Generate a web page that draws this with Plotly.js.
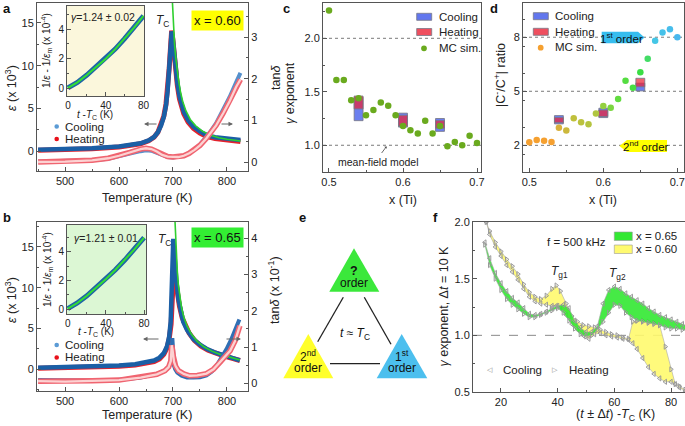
<!DOCTYPE html>
<html><head><meta charset="utf-8">
<script src="https://cdn.plot.ly/plotly-3.0.1.min.js"></script>
<style>html,body{margin:0;padding:0;background:#fff}#chart{width:685px;height:426px}</style>
</head><body><div id="chart"></div>
<script>
// ---------- panel a (x = 0.60) ----------
const aEpsCoolT=[450,500,550,600,625,640,655,665,672,678,683,687,690,693,695.5,697.5,699.5,702,705,708,712,716,720,728,738,750,762,778,793,810,825];
const aEpsCool=[0.16,0.22,0.33,0.52,0.7,0.9,1.25,1.65,2.2,3.0,4.0,5.3,7.0,9.3,11.8,14.0,13.3,11.5,9.6,8.0,6.4,5.3,4.6,3.6,2.85,2.3,1.87,1.62,1.48,1.37,1.28];
const aEpsHeat=[0.1,0.16,0.27,0.46,0.64,0.85,1.2,1.62,2.2,3.05,4.1,5.5,7.3,9.7,12.2,14.1,13.2,11.2,9.3,7.7,6.1,5.0,4.35,3.4,2.65,2.1,1.7,1.45,1.3,1.2,1.12];
const aFitT=[698.5,699.5,701,703,705,707,710,714,718,724,732,742,755,770,785,800,815,825];
const aFitEps=[18,16.3,14.3,12.4,11.0,9.8,8.4,6.9,5.8,4.7,3.7,2.95,2.3,1.85,1.55,1.38,1.25,1.17];
const aTanT=[450,500,550,580,600,620,640,650,660,670,680,690,700,710,720,730,740,750,762,770,780,793,805,817,825];
const aTanHeat=[0.0,0.01,0.04,0.09,0.15,0.23,0.31,0.33,0.31,0.25,0.17,0.13,0.12,0.12,0.15,0.21,0.29,0.4,0.57,0.7,0.88,1.17,1.46,1.8,1.98];
const aTanCool=[0.01,0.02,0.04,0.08,0.13,0.2,0.26,0.28,0.27,0.22,0.15,0.12,0.11,0.12,0.15,0.22,0.3,0.42,0.6,0.74,0.93,1.24,1.56,1.91,2.14];
// inset (t - Tc vs 1/eps - 1/eps_m)
const insT=[0,10,20,30,40,50,60,70,80];
const insA=[0.03,0.4,0.9,1.45,2.0,2.65,3.35,4.1,4.9];
const insB=[0.03,0.42,0.93,1.5,2.1,2.75,3.45,4.2,5.0];
// ---------- panel b (x = 0.65) ----------
const bEpsCoolT=[450,500,550,600,630,650,665,675,683,689,693,695.7,697.5,699,700.6,702,703.7,706,710,715,719,726,737.6,750,762,777,793,810,824];
const bEpsCool=[0.15,0.2,0.28,0.42,0.58,0.78,1.05,1.4,1.95,2.8,4.0,5.8,8.5,12.0,16.0,14.8,13.0,11.0,8.6,6.8,5.8,4.8,3.7,3.0,2.5,2.05,1.7,1.38,1.07];
const bEpsHeatT=[450,500,550,600,630,650,665,675,683,689,693,696.5,699,700.5,701.8,703,705,708,712,717,722,730,740,752,765,780,795,810,824];
const bEpsHeat=[0.1,0.14,0.2,0.33,0.48,0.66,0.9,1.25,1.8,2.6,3.7,5.5,8.2,10.8,12.8,12.2,10.9,9.3,7.7,6.3,5.4,4.4,3.5,2.8,2.3,1.9,1.6,1.32,1.05];
const bFitT=[703.5,705,706.5,708,710,713,716,720,726,734,745,758,772,788,805,824];
const bFitEps=[18.5,15.5,13.5,12.0,10.3,8.6,7.5,6.4,5.3,4.3,3.4,2.7,2.2,1.8,1.45,1.1];
const bTanCoolT=[450,500,550,600,640,670,685,693,697,698.8,699.8,700.6,702,704,708,716,726,738,750,762,772,781,790,799,808,816,823];
const bTanCool=[0.09,0.08,0.08,0.1,0.16,0.26,0.35,0.47,0.66,1.25,1.01,0.7,0.48,0.39,0.3,0.21,0.16,0.16,0.17,0.22,0.33,0.49,0.7,0.94,1.21,1.48,1.76];
const bTanHeatT=[450,500,550,600,640,670,685,692,696,697.6,699,700.5,702,705,710,720,731,745,762,775,787,797,806,815,824];
const bTanHeat=[0.06,0.05,0.07,0.09,0.16,0.25,0.35,0.45,0.62,1.05,0.94,0.76,0.59,0.47,0.35,0.26,0.21,0.22,0.27,0.39,0.58,0.74,0.9,1.17,1.59];
// ---------- panel c ----------
const mcX=[0.50,0.51,0.52,0.53,0.54,0.55,0.56,0.57,0.58,0.59,0.60,0.61,0.62,0.63,0.64,0.65,0.66,0.67,0.68,0.69,0.70];
const cMC=[2.26,1.61,1.61,1.42,1.44,1.28,1.33,1.40,1.37,1.28,1.18,1.14,1.11,1.23,1.11,1.18,0.99,1.03,1.00,1.09,1.02];
const expX=[0.54,0.60,0.65];
const cCoolLo=[1.23,1.17,1.13], cCoolHi=[1.45,1.30,1.25];
const cHeatLo=[1.34,1.18,1.16], cHeatHi=[1.46,1.28,1.23];
// ---------- panel d ----------
const dMC=[2.17,2.3,2.26,2.19,2.98,2.83,3.5,3.28,3.17,3.76,4.19,4.09,4.57,5.59,5.2,6.06,6.8,7.81,8.26,8.44,8.0];
const dCoolLo=[3.19,3.54,5.02], dCoolHi=[3.65,4.06,5.45];
const dHeatLo=[3.26,3.6,5.25], dHeatHi=[3.54,3.96,5.72];
// ---------- panel f ----------
const fGX=[14.3,16,18,20,22,24,26,28,30,32,34,36,38,40,42,44,46,48,50,52,54,56,58,60,62,64,66,68,70,72,74,76,78,80,82,84,86];
const fGUp=[1.82,1.68,1.55,1.46,1.39,1.33,1.29,1.24,1.19,1.18,1.19,1.21,1.24,1.26,1.27,1.24,1.13,1.07,1.03,1.03,1.08,1.28,1.40,1.43,1.41,1.37,1.34,1.31,1.28,1.24,1.21,1.18,1.16,1.14,1.12,1.10,1.08];
const fGLo=[1.80,1.62,1.50,1.40,1.32,1.27,1.23,1.19,1.16,1.16,1.18,1.20,1.22,1.24,1.20,1.13,1.06,1.01,0.99,1.00,1.05,1.12,1.20,1.27,1.26,1.20,1.16,1.13,1.12,1.11,1.10,1.09,1.07,1.06,1.06,1.05,1.04];
const fYX=[14.8,16,18,20,22,24,26,28,30,32,34,36,38,39.5,41,43,45,47,49,51,53,55,57,59,61,63,65,66.5,68,70,72,74,76,78,80,81.5,83,85];
const fYUp=[2.0,1.92,1.82,1.74,1.67,1.61,1.54,1.45,1.38,1.34,1.32,1.35,1.41,1.44,1.39,1.28,1.17,1.12,1.09,1.08,1.07,1.05,1.03,1.01,1.00,0.98,0.97,1.12,1.13,1.13,1.12,1.11,1.09,0.90,0.70,0.57,0.55,0.52];
const fYLo=[2.0,1.89,1.78,1.70,1.62,1.56,1.49,1.41,1.34,1.30,1.28,1.27,1.26,1.26,1.25,1.18,1.10,1.05,1.00,0.97,1.01,1.02,1.00,0.99,0.98,0.97,0.96,0.93,0.88,0.80,0.72,0.66,0.62,0.59,0.59,0.57,0.54,0.51];

// ---------- helpers ----------
const W=685,H=426;
const X=p=>p/W, Y=p=>1-p/H;
const FONT='Liberation Sans, Arial, Helvetica, sans-serif';
const diff=(hi,lo)=>hi.map((v,i)=>v-lo[i]);
function ln(x,y,xa,ya,color,width){return {type:'scatter',mode:'lines',x:x,y:y,xaxis:xa,yaxis:ya,line:{color:color,width:width},hoverinfo:'skip',showlegend:false};}

const traces=[];
// panel a
traces.push(ln(aTanT,aTanCool,'x','y2','#5590cc',4));
traces.push(ln(aTanT,aTanHeat,'x','y2','#f06470',5.5));
traces.push(ln(aTanT,aTanHeat,'x','y2','#fcd2d2',2.3));
traces.push(ln(aEpsCoolT,aEpsHeat,'x','y','#e3222c',5));
traces.push(ln(aEpsCoolT,aEpsCool,'x','y','#1a5fa6',4.5));
traces.push(ln(aFitT,aFitEps,'x','y','#2fcf2f',1.6));
traces.push(ln(insT,insA,'x2','y3','#1e64a8',5));
traces.push(ln(insT,insA,'x2','y3','#33dd33',2));
// panel b
traces.push(ln(bTanCoolT,bTanCool,'x3','y5','#2f6fb4',4));
traces.push(ln(bTanHeatT,bTanHeat,'x3','y5','#f06470',5.5));
traces.push(ln(bTanHeatT,bTanHeat,'x3','y5','#fcd2d2',2.3));
traces.push(ln(bEpsHeatT,bEpsHeat,'x3','y4','#e3222c',5));
traces.push(ln(bEpsCoolT,bEpsCool,'x3','y4','#1a5fa6',4.5));
traces.push(ln(bFitT,bFitEps,'x3','y4','#2fcf2f',1.6));
traces.push(ln(insT,insB,'x4','y6','#1e64a8',5));
traces.push(ln(insT,insB,'x4','y6','#33dd33',2));
// panel c
traces.push({type:'scatter',mode:'markers',x:mcX,y:cMC,xaxis:'x5',yaxis:'y7',marker:{color:'#6aaa1e',size:6.5},hoverinfo:'skip',showlegend:false});
function bars(lo,hi,xa,ya,color){return {type:'bar',x:expX,base:lo,y:diff(hi,lo),width:0.012,xaxis:xa,yaxis:ya,marker:{color:color,line:{color:'rgba(120,120,135,0.85)',width:1}},hoverinfo:'skip',showlegend:false};}
traces.push(bars(cCoolLo,cCoolHi,'x5','y7','rgba(70,95,235,0.8)'));
traces.push(bars(cHeatLo,cHeatHi,'x5','y7','rgba(235,35,55,0.72)'));
// panel d
traces.push({type:'scatter',mode:'markers',x:mcX,y:dMC,xaxis:'x6',yaxis:'y8',
  marker:{size:6.5,color:mcX,cmin:0.5,cmax:0.7,colorscale:[[0,'#f5a030'],[0.15,'#f5a030'],[0.2,'#d8b03c'],[0.3,'#c0c03c'],[0.45,'#b0c640'],[0.5,'#94d040'],[0.6,'#62dc40'],[0.75,'#3ade44'],[0.8,'#44dc66'],[0.85,'#44c6e6'],[1,'#48b8ee']],showscale:false},hoverinfo:'skip',showlegend:false});
traces.push(bars(dCoolLo,dCoolHi,'x6','y8','rgba(70,95,235,0.8)'));
traces.push(bars(dHeatLo,dHeatHi,'x6','y8','rgba(235,35,55,0.72)'));
// panel f
function band(x,y,fill,sym,fc){const t={type:'scatter',mode:'lines+markers',x:x,y:y,xaxis:'x7',yaxis:'y9',line:{color:'#a8a8a8',width:0.6},marker:{symbol:sym,size:4.5,color:'#999',line:{color:'#999',width:1}},hoverinfo:'skip',showlegend:false};if(fill){t.fill='tonexty';t.fillcolor=fc;}return t;}
traces.push(band(fYX,fYLo,false,'triangle-left-open'));
traces.push(band(fYX,fYUp,true,'triangle-right-open','rgba(255,250,110,0.9)'));
traces.push(band(fGX,fGLo,false,'triangle-right-open'));
traces.push(band(fGX,fGUp,true,'triangle-left-open','rgba(50,232,50,0.9)'));

// ---------- axes ----------
const TF={family:FONT,size:11,color:'#222'};
function xa(l,r,range,anchor,ex){return Object.assign({domain:[X(l),X(r)],range:range,anchor:anchor,showline:true,linecolor:'#555',linewidth:1,mirror:true,ticks:'inside',ticklen:4,tickcolor:'#555',tickfont:TF,showgrid:false,zeroline:false,fixedrange:true},ex);}
function ya(b,t,range,anchor,ex){return Object.assign({domain:[Y(b),Y(t)],range:range,anchor:anchor,showline:true,linecolor:'#555',linewidth:1,mirror:true,ticks:'inside',ticklen:4,tickcolor:'#555',tickfont:TF,showgrid:false,zeroline:false,fixedrange:true},ex);}
const mn=(d)=>({ticks:'inside',ticklen:2,tickcolor:'#555',dtick:d});
const TFs={family:FONT,size:10,color:'#222'};

const layout={
  width:W,height:H,margin:{l:0,r:0,t:0,b:0},paper_bgcolor:'#fff',plot_bgcolor:'rgba(0,0,0,0)',
  barmode:'overlay',showlegend:false,font:{family:FONT,color:'#222'},
  xaxis:xa(37,248,[448,839],'y',{tick0:500,dtick:100,minor:mn(50)}),
  yaxis:ya(171,3,[-2.34,17.34],'x',{tick0:0,dtick:5,minor:mn(2.5),mirror:false}),
  yaxis2:ya(171,3,[-0.216,3.816],'x',{overlaying:'y',side:'right',tick0:0,dtick:1,minor:mn(0.5),mirror:false}),
  xaxis2:xa(67,144,[-1,80.5],'y3',{tick0:0,dtick:40,minor:mn(20),tickfont:TFs}),
  yaxis3:ya(96,6,[-0.52,5.56],'x2',{tick0:0,dtick:2,minor:mn(1),tickfont:TFs}),
  xaxis3:xa(37,248,[448,839],'y4',{tick0:500,dtick:100,minor:mn(50)}),
  yaxis4:ya(391,222,[-2.7,18.07],'x3',{tick0:0,dtick:5,minor:mn(2.5),mirror:false}),
  yaxis5:ya(391,222,[-0.21,4.45],'x3',{overlaying:'y4',side:'right',tick0:0,dtick:1,minor:mn(0.5),mirror:false}),
  xaxis4:xa(67,146,[-0.8,82],'y6',{tick0:0,dtick:40,minor:mn(20),tickfont:TFs}),
  yaxis6:ya(314,225,[-0.35,5.89],'x4',{tick0:0,dtick:2,minor:mn(1),tickfont:TFs}),
  xaxis5:xa(323,481,[0.4919,0.7054],'y7',{tick0:0.5,dtick:0.1,tickformat:'.1f',minor:mn(0.05)}),
  yaxis7:ya(172,3,[0.75,2.33],'x5',{tick0:1,dtick:0.5,tickformat:'.1f',minor:mn(0.25)}),
  xaxis6:xa(523,684,[0.4915,0.709],'y8',{tick0:0.5,dtick:0.1,tickformat:'.1f',minor:mn(0.05)}),
  yaxis8:ya(172,3,[0.52,9.9],'x6',{tick0:2,dtick:3,minor:mn(1.5)}),
  xaxis7:xa(473,685,[10.12,84.94],'y9',{tick0:20,dtick:20,minor:mn(10)}),
  yaxis9:ya(392,222,[0.5,2.0],'x7',{tick0:0.5,dtick:0.5,tickformat:'.1f',minor:mn(0.25)})
};

// ---------- shapes ----------
const shapes=[];
shapes.push({type:'rect',xref:'x2 domain',yref:'y3 domain',x0:0,x1:1,y0:0,y1:1,fillcolor:'#fbf7dc',line:{width:0},layer:'below'});
shapes.push({type:'rect',xref:'x4 domain',yref:'y6 domain',x0:0,x1:1,y0:0,y1:1,fillcolor:'#dcf7d4',line:{width:0},layer:'below'});
const dot={color:'#7a7a7a',width:1,dash:'dot'};
[1,2].forEach(v=>shapes.push({type:'line',xref:'x5 domain',yref:'y7',x0:0,x1:1,y0:v,y1:v,line:dot,layer:'below'}));
[2,5,8].forEach(v=>shapes.push({type:'line',xref:'x6 domain',yref:'y8',x0:0,x1:1,y0:v,y1:v,line:dot,layer:'below'}));
shapes.push({type:'line',xref:'x7 domain',yref:'y9',x0:0,x1:1,y0:1,y1:1,line:{color:'#8a8a8a',width:1,dash:'dash'},layer:'below'});
function path(pts,fill){return {type:'path',xref:'paper',yref:'paper',path:'M'+pts.map(p=>X(p[0])+','+Y(p[1])).join(' L')+' Z',fillcolor:fill,line:{width:0}};}
function circ(cx,cy,r,c){return {type:'circle',xref:'paper',yref:'paper',x0:X(cx-r),x1:X(cx+r),y0:Y(cy+r),y1:Y(cy-r),fillcolor:c,line:{width:0}};}
function box(x0,x1,y0,y1,c){return {type:'rect',xref:'paper',yref:'paper',x0:X(x0),x1:X(x1),y0:Y(y1),y1:Y(y0),fillcolor:c,line:{color:'rgba(120,120,135,0.8)',width:1}};}
function seg(x0,y0,x1,y1){return {type:'line',xref:'paper',yref:'paper',x0:X(x0),y0:Y(y0),x1:X(x1),y1:Y(y1),line:{color:'#222',width:1.3}};}
// panel e triangles
shapes.push(path([[354,248.3],[379.3,291.7],[329.3,291.7]],'#3be83b'));
shapes.push(path([[308.3,334],[333.3,378.3],[283.3,378.3]],'#ffff2a'));
shapes.push(path([[401.7,334],[427.3,378.3],[376.7,378.3]],'#4cbfee'));
shapes.push(seg(343.3,297.3,317.7,341.7));
shapes.push(seg(364.3,297.3,391,344.3));
shapes.push(seg(330,363.7,380,363.7));
// legends a,b
shapes.push(circ(56.7,126.5,2.3,'#5b9bd5'));
shapes.push(circ(56.7,139,2.3,'#e8101a'));
shapes.push(circ(56.7,345,2.3,'#5b9bd5'));
shapes.push(circ(56.7,357.5,2.3,'#e8101a'));
// legends c,d
shapes.push(box(416.7,431.7,13.3,20.3,'rgba(70,95,235,0.85)'));
shapes.push(box(416.7,431.7,28.5,35.5,'rgba(235,35,55,0.8)'));
shapes.push(circ(424,48.3,2.9,'#6aaa1e'));
shapes.push(box(533.3,548.3,12.7,19.7,'rgba(70,95,235,0.85)'));
shapes.push(box(533.3,548.3,28.3,35.3,'rgba(235,35,55,0.8)'));
shapes.push(circ(540.7,47.7,2.9,'#f5a030'));
// order tags in d
shapes.push(path([[601.7,31.7],[638,31.7],[644.5,37.5],[638,43.3],[601.7,43.3]],'#36bdee'));
shapes.push(path([[619.5,146],[627,140],[667,140],[667,152],[627,152]],'#ffff00'));
// legend f
shapes.push({type:'rect',xref:'paper',yref:'paper',x0:X(614.3),x1:X(632.3),y0:Y(240.5),y1:Y(232),fillcolor:'#33e833',line:{color:'#999',width:0.6}});
shapes.push({type:'rect',xref:'paper',yref:'paper',x0:X(614.3),x1:X(632.3),y0:Y(253.5),y1:Y(245),fillcolor:'#fffa70',line:{color:'#999',width:0.6}});
layout.shapes=shapes;

// ---------- annotations ----------
const ann=[];
function t(x,y,text,o){ann.push(Object.assign({xref:'paper',yref:'paper',x:X(x),y:Y(y),text:text,showarrow:false,xanchor:'center',yanchor:'middle',font:{family:FONT,size:11,color:'#222'}},o||{}));}
const B={font:{family:FONT,size:13,color:'#111'}};
t(7,8,'<b>a</b>',B); t(7,217,'<b>b</b>',B); t(286,8,'<b>c</b>',B); t(494,8,'<b>d</b>',B); t(302,218,'<b>e</b>',B); t(435,218,'<b>f</b>',B);
const AT={family:FONT,size:12.5,color:'#222'};
// axis titles a
t(11,88,'<i>ε</i> (x 10<sup>3</sup>)',{textangle:-90,font:AT});
t(276,78,'tan<i>δ</i>',{textangle:-90,font:AT});
t(147,198,'Temperature (K)',{font:AT});
// axis titles b
t(11,300,'<i>ε</i> (x 10<sup>3</sup>)',{textangle:-90,font:AT});
t(274,290,'tan<i>δ</i> (x 10<sup>-1</sup>)',{textangle:-90,font:AT});
t(147,414.5,'Temperature (K)',{font:AT});
// insets
const IT={family:FONT,size:10,color:'#222'};
t(47,51,'1/<i>ε</i> - 1/<i>ε</i><sub>m</sub> (x 10<sup>-4</sup>)',{textangle:-90,font:IT});
t(95,115.5,'<i>t</i> -<i>T</i><sub>C</sub> (K)',{font:IT});
t(103,17,'<i>γ</i>=1.24 ± 0.02',{font:{family:FONT,size:10.5,color:'#222'}});
t(47,270,'1/<i>ε</i> - 1/<i>ε</i><sub>m</sub> (x 10<sup>-4</sup>)',{textangle:-90,font:IT});
t(96,332,'<i>t</i> -<i>T</i><sub>C</sub> (K)',{font:IT});
t(106,238,'<i>γ</i>=1.21 ± 0.01',{font:{family:FONT,size:10.5,color:'#222'}});
// Tc, composition tags
t(162,21,'<i>T</i><sub>C</sub>',{font:{family:FONT,size:12,color:'#222'}});
t(164,240,'<i>T</i><sub>C</sub>',{font:{family:FONT,size:12,color:'#222'}});
t(217,20,'x = 0.60',{bgcolor:'#ffff00',borderpad:2,font:{family:FONT,size:13,color:'#111'}});
t(217,237,'x = 0.65',{bgcolor:'#33ee33',borderpad:2,font:{family:FONT,size:13,color:'#111'}});
// legends a,b
const LF={family:FONT,size:11.5,color:'#222'};
t(63,126.5,'Cooling',{xanchor:'left',font:LF}); t(63,139,'Heating',{xanchor:'left',font:LF});
t(63,344.5,'Cooling',{xanchor:'left',font:LF}); t(63,357,'Heating',{xanchor:'left',font:LF});
// arrows a,b
function arr(x,y,dx){ann.push({xref:'paper',yref:'paper',x:X(x),y:Y(y),ax:dx,ay:0,text:'',showarrow:true,arrowhead:2,arrowsize:0.9,arrowwidth:1,arrowcolor:'#666'});}
arr(144,124,14); arr(233,124,-13);
arr(143,339,17); arr(241,339,-16);
// panel c
t(403,200,'x (Ti)',{font:AT});
t(290,93,'<i>γ</i> exponent',{textangle:-90,font:AT});
t(436.7,16.7,'Cooling',{xanchor:'left',font:LF}); t(436.7,32,'Heating',{xanchor:'left',font:LF}); t(436.7,48,'MC sim.',{xanchor:'left',font:LF});
t(379,162,'mean-field model',{font:{family:FONT,size:10.5,color:'#222'}});
ann.push({xref:'paper',yref:'paper',x:X(386.5),y:Y(146.5),ax:-6,ay:8,text:'',showarrow:true,arrowhead:1,arrowsize:0.7,arrowwidth:0.8,arrowcolor:'#444'});
// panel d
t(603,200,'x (Ti)',{font:AT});
t(500,75,'|C<sup>-</sup>/C<sup>+</sup>| ratio',{textangle:-90,font:AT});
t(553.3,16,'Cooling',{xanchor:'left',font:LF}); t(553.3,31.7,'Heating',{xanchor:'left',font:LF}); t(553.3,47,'MC sim.',{xanchor:'left',font:LF});
t(621,37.5,'1<sup>st</sup> order',{font:{family:FONT,size:11.5,color:'#111'}});
t(646,146,'2<sup>nd</sup> order',{font:{family:FONT,size:11.5,color:'#111'}});
// panel e
const EF={family:FONT,size:12,color:'#111'};
t(354,270.5,'<b>?</b>',{font:{family:FONT,size:12.5,color:'#111'}});
t(354,282.5,'order',{font:EF});
t(308.3,355.5,'2<sup>nd</sup>',{font:EF}); t(308.3,368,'order',{font:EF});
t(401.7,355.5,'1<sup>st</sup>',{font:EF}); t(401.7,368,'order',{font:EF});
t(355,334,'<i>t</i> ≈ <i>T</i><sub>C</sub>',{font:EF});
// panel f
t(443.5,306,'<i>γ</i> exponent, Δ<i>t</i> = 10 K',{textangle:-90,font:AT});
t(615,414.5,'(<i>t</i> ± Δ<i>t</i>) -<i>T</i><sub>C</sub> (K)',{font:AT});
t(576,242,'f = 500 kHz',{font:LF});
t(633.5,236,'x = 0.65',{xanchor:'left',font:LF});
t(633.5,249.3,'x = 0.60',{xanchor:'left',font:LF});
t(559,272,'<i>T</i><sub>g1</sub>',{font:{family:FONT,size:12,color:'#222'}});
t(617,273.5,'<i>T</i><sub>g2</sub>',{font:{family:FONT,size:12,color:'#222'}});
t(490,369.5,'◁',{font:{family:'DejaVu Sans',size:7,color:'#888'}});
t(501,369.5,'Cooling',{xanchor:'left',font:LF});
t(555,369.5,'▷',{font:{family:'DejaVu Sans',size:7,color:'#888'}});
t(567,369.5,'Heating',{xanchor:'left',font:LF});
layout.annotations=ann;

Plotly.newPlot('chart',traces,layout,{staticPlot:true,displayModeBar:false});
</script></body></html>
